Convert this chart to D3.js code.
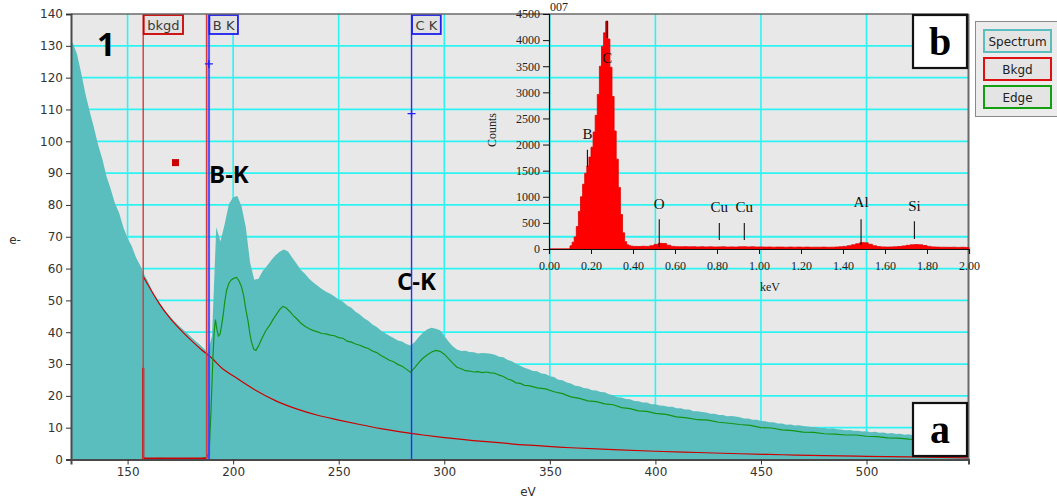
<!DOCTYPE html>
<html>
<head>
<meta charset="utf-8">
<script src="https://cdn.jsdelivr.net/npm/d3@7"></script>
<style>
  body { margin: 0; background: #fff; }
  svg { display: block; }
</style>
</head>
<body>
<svg id="chart" width="1057" height="501"></svg>
<script>
// ---------------- EELS spectrum (e- per 2 eV channel, channels start at 123 eV) ----------------
const specStart = 123;
const specStep = 2;
const spectrumCounts = [
  131, 127.5, 121.5, 115, 109.5, 104.5, 99, 94.5, 89, 85,
  80.5, 77.5, 73, 69.5, 67, 63.5, 61, 58, 55.5, 52.5,
  50.5, 48.5, 46.5, 45, 43.5, 42.2, 41, 39.8, 38.6, 37.3,
  36.2, 35, 33.5, 39, 73, 68.5, 74, 80.3, 82.4, 82.8,
  79.5, 73, 62, 56.5, 56.8, 59.2, 60.8, 62.6, 64.1, 65.3,
  66, 65.4, 63.4, 61.6, 59.6, 58.4, 56.8, 55.6, 54.6, 53.6,
  52.7, 52.1, 51.2, 50.3, 49.6, 48.4, 47.7, 46.4, 45.6, 44.4,
  43.6, 42.4, 41.6, 40.5, 39.7, 38.9, 38.2, 37.4, 37.1, 36.3,
  35.8, 36.9, 38.6, 39.9, 40.9, 41.4, 41.1, 40.6, 38.9, 37.1,
  35.6, 34.6, 34.1, 34.2, 33.8, 33.7, 33.3, 33.5, 33.4, 33.2,
  32.9, 32.3, 32.1, 31.3, 30.9, 30.1, 29.5, 28.8, 28.4, 27.8,
  27.7, 27.0, 26.9, 26.2, 25.9, 25.1, 24.9, 24.2, 23.9, 23.2,
  23.0, 22.5, 22.3, 21.8, 21.7, 21.2, 21.1, 20.5, 20.2, 19.6,
  19.5, 19.0, 18.9, 18.4, 18.3, 17.9, 17.9, 17.4, 17.4, 17.0,
  16.9, 16.6, 16.6, 16.1, 16.1, 15.7, 15.7, 15.2, 15.2, 14.9,
  14.8, 14.4, 14.4, 14.0, 14.0, 13.6, 13.7, 13.5, 13.3, 12.9,
  12.9, 12.5, 12.5, 12.1, 12.0, 11.7, 11.7, 11.3, 11.3, 10.9,
  11.0, 10.7, 10.8, 10.5, 10.4, 10.2, 10.2, 9.9, 9.9, 9.7,
  9.8, 9.5, 9.4, 9.2, 9.3, 9.0, 9.0, 8.8, 8.9, 8.6,
  8.7, 8.4, 8.5, 8.2, 8.3, 8.0, 8.1, 7.8, 7.9, 7.6,
  7.7, 7.4, 7.5, 7.3, 7.3, 7.1, 7.2, 7.0, 7.1, 6.9,
  7.0, 6.8, 6.9
];

// Power-law background fit, [eV, e-]
const bkgdProfile = [
  [157.4, 57.5], [160, 54.5], [165, 49], [170, 44.5], [175, 40.8], [180, 37.5],
  [185, 34.5], [190, 31.8], [195, 28.5], [200, 26.3], [210, 22], [220, 18.5],
  [230, 15.9], [240, 13.9], [250, 12.4], [260, 11], [270, 9.7], [280, 8.6],
  [290, 7.7], [300, 6.9], [320, 5.6], [340, 4.5], [360, 3.7], [380, 3.1],
  [400, 2.6], [420, 2.2], [440, 1.8], [460, 1.5], [480, 1.2], [500, 1.0],
  [520, 0.8], [548.3, 0.5]
];

// Background-subtracted edge signal, [eV, e-]
const edgeProfile = [
  [157.4, 0.3], [160, 0.1], [165, 0.4], [170, 0.2], [175, 0.3], [180, 0.1], [185, 0.4],
  [187.4, 0.6], [188.6, 2], [189.5, 15], [190.3, 30], [191, 40], [191.6, 44], [192.3, 41],
  [193, 38.8], [193.8, 39.4], [194.5, 42], [195.3, 45.5], [196, 49.5], [196.9, 53.2],
  [198, 55.4], [199.2, 56.5], [200.5, 57], [201.6, 57.2], [202.8, 56.1], [203.9, 54.4],
  [205, 51.4], [206, 47.2], [207.1, 43.3], [208, 39.2], [208.7, 36.9], [209.8, 34.6],
  [210.8, 34.3], [212, 35.7], [213.5, 37.9], [215.4, 40.4], [217.4, 42.3], [219, 44.1],
  [220.5, 45.6], [222, 47.1], [223.5, 48.1], [225, 47.7], [226.7, 46.6], [228.4, 45.3],
  [230, 44.3], [232, 42.9], [234, 41.9], [236, 41.1], [238, 40.5], [240, 40.1],
  [242, 39.6], [244, 39.5], [246, 39.1], [248, 38.9], [250, 38.3], [252, 38.1],
  [254, 37.2], [256, 36.9], [258, 36.3], [260, 35.9], [262, 35.3], [264, 34.9],
  [266, 34.1], [268, 33.6], [270, 32.7], [272, 32.0], [274, 31.2], [276, 30.7],
  [278, 29.9], [280, 29.3], [282, 28.4], [284, 27.4], [286, 28.9], [288, 30.5],
  [290, 31.9], [292, 32.9], [294, 33.8], [296, 34.3], [298, 34.0], [300, 33.1],
  [302, 31.7], [304, 30.3], [306, 29.0], [308, 28.5], [310, 27.9], [312, 27.8],
  [314, 27.5], [316, 27.6], [318, 27.3], [320, 27.5], [322, 27.2], [324, 27.1],
  [326, 26.5], [328, 26.1], [330, 25.3], [332, 24.9], [334, 24.1], [336, 23.9],
  [338, 23.3], [340, 23.2], [344, 22.5], [348, 22.2], [352, 21.3], [356, 20.7],
  [360, 19.7], [364, 19.2], [368, 18.4], [372, 18.2], [376, 17.5], [380, 17.2],
  [384, 16.3], [388, 16.0], [392, 15.3], [396, 15.1], [400, 14.5], [405, 14.2],
  [410, 13.4], [415, 13.1], [420, 12.5], [425, 12.4], [430, 11.7], [435, 11.4],
  [440, 11.0], [445, 10.7], [450, 10.0], [455, 9.9], [460, 9.3], [465, 9.1],
  [470, 8.6], [475, 8.5], [480, 8.1], [485, 8.0], [490, 7.7], [495, 7.7],
  [500, 7.3], [505, 7.2], [510, 6.8], [515, 6.7], [520, 6.4], [525, 6.3],
  [530, 6.0], [535, 5.9], [540, 5.6], [548.3, 5.5]
];

// Edge / window markers (eV) and their labels
const markerNames = ["bkgd", "B K", "C K"];
const markerEv = [157.4, 188.5, 284.5];
const bkgdWindow = [157.4, 187.4];
const bkgdStepValue = 28.8;
const markerCross = [[188.5, 124.3], [284.5, 108.7]];
const fitPoint = [172.7, 93.3];

const xTicks = [150, 200, 250, 300, 350, 400, 450, 500];
const yTicks = [0, 10, 20, 30, 40, 50, 60, 70, 80, 90, 100, 110, 120, 130, 140];

// ---------------- EDS inset (counts) ----------------
// 0.01 keV channels from 0.00 to 0.39 keV
const edsFineCounts = [
  0, 0, 0, 0, 0, 0, 0, 0, 0, 0,
  60, 130, 230, 430, 720, 1000, 1240, 1450, 1590, 1760,
  1950, 2240, 2560, 2960, 3500, 3880, 4140, 4360, 4020, 3480,
  2920, 2260, 1720, 1180, 660, 310, 140, 80, 62, 55
];
// 0.02 keV channels from 0.40 to 1.98 keV
const edsCoarseCounts = [
  50, 48, 52, 50, 62, 88, 108, 104, 72, 50,
  44, 42, 45, 41, 43, 40, 42, 39, 41, 38,
  40, 42, 38, 40, 37, 41, 44, 40, 42, 38,
  39, 36, 38, 35, 37, 36, 34, 37, 35, 36,
  34, 36, 33, 35, 34, 36, 33, 35, 38, 42,
  50, 62, 80, 100, 122, 118, 90, 62, 46, 40,
  37, 39, 42, 48, 58, 70, 80, 84, 80, 66,
  50, 40, 36, 34, 33, 32, 34, 31, 33, 30
];
const peakNames = ["B", "C", "O", "Cu", "Cu", "Al", "Si"];
const peakKeV = [0.183, 0.277, 0.525, 0.811, 0.930, 1.486, 1.740];
const edsXTicks = [0, 0.2, 0.4, 0.6, 0.8, 1.0, 1.2, 1.4, 1.6, 1.8, 2.0];
const edsYTicks = [0, 500, 1000, 1500, 2000, 2500, 3000, 3500, 4000, 4500];

const legendNames = ["Spectrum", "Bkgd", "Edge"];

// ---------------- colours ----------------
const C = {
  plotBg: "#e8e8e8",
  grid: "#2ef3f3",
  spectrum: "#5bbebe",
  bkgd: "#cc0000",
  edge: "#149414",
  marker: "#2a2aff",
  text: "#333333"
};

const svg = d3.select("#chart");
const sans = "'DejaVu Sans', sans-serif";
const serif = "'Liberation Serif', 'Times New Roman', serif";

const P = { left: 71, right: 968.5, top: 14, bottom: 459.5 };
const x = d3.scaleLinear().domain([123.2, 548.3]).range([P.left, P.right]);
const y = d3.scaleLinear().domain([0, 140]).range([P.bottom, P.top]);

svg.append("defs").append("clipPath").attr("id", "plotClip")
  .append("rect").attr("x", P.left).attr("y", P.top)
  .attr("width", P.right - P.left).attr("height", P.bottom - P.top);

// plot background
svg.append("rect").attr("x", P.left).attr("y", P.top)
  .attr("width", P.right - P.left).attr("height", P.bottom - P.top)
  .attr("fill", C.plotBg);

// grid
const grid = svg.append("g");
grid.selectAll("line.v").data(xTicks).join("line")
  .attr("x1", d => x(d)).attr("x2", d => x(d))
  .attr("y1", P.top).attr("y2", P.bottom)
  .attr("stroke", C.grid).attr("stroke-width", 1.6);
grid.selectAll("line.h").data(yTicks.filter(d => d > 0 && d < 140)).join("line")
  .attr("x1", P.left).attr("x2", P.right)
  .attr("y1", d => y(d)).attr("y2", d => y(d))
  .attr("stroke", C.grid).attr("stroke-width", 1.8);

const plotG = svg.append("g").attr("clip-path", "url(#plotClip)");

// spectrum: channel values drawn at channel centres
const specPts = spectrumCounts.map((v, i) => [specStart + i * specStep + specStep / 2, v]);
specPts.unshift([specStart - specStep, spectrumCounts[0]]);
specPts.push([specStart + spectrumCounts.length * specStep + specStep, spectrumCounts[spectrumCounts.length - 1]]);
plotG.append("path").datum(specPts)
  .attr("fill", C.spectrum)
  .attr("d", d3.area().x(d => x(d[0])).y0(y(0)).y1(d => y(d[1])));

// background fit
plotG.append("path").datum(bkgdProfile)
  .attr("fill", "none").attr("stroke", C.bkgd).attr("stroke-width", 1.2)
  .attr("d", d3.line().x(d => x(d[0])).y(d => y(d[1])).curve(d3.curveMonotoneX));

// edge signal
plotG.append("path").datum(edgeProfile)
  .attr("fill", "none").attr("stroke", C.edge).attr("stroke-width", 1.2)
  .attr("d", d3.line().x(d => x(d[0])).y(d => y(d[1])));

// background window
plotG.append("line")
  .attr("x1", x(bkgdWindow[0])).attr("x2", x(bkgdWindow[0]))
  .attr("y1", y(0)).attr("y2", y(bkgdStepValue))
  .attr("stroke", C.bkgd).attr("stroke-width", 2.2);
plotG.append("line")
  .attr("x1", x(bkgdWindow[0])).attr("x2", x(bkgdWindow[1]))
  .attr("y1", y(0) - 1).attr("y2", y(0) - 1)
  .attr("stroke", C.bkgd).attr("stroke-width", 2);
plotG.selectAll("line.win").data(bkgdWindow).join("line")
  .attr("x1", d => x(d)).attr("x2", d => x(d))
  .attr("y1", P.top).attr("y2", P.bottom)
  .attr("stroke", "#d23c3c").attr("stroke-width", 1.4);

// edge markers
plotG.append("line")
  .attr("x1", x(markerEv[1])).attr("x2", x(markerEv[1]))
  .attr("y1", P.top).attr("y2", P.bottom)
  .attr("stroke", "#3f3fff").attr("stroke-width", 2.4).attr("opacity", 0.85);
plotG.append("line")
  .attr("x1", x(markerEv[2])).attr("x2", x(markerEv[2]))
  .attr("y1", P.top).attr("y2", P.bottom)
  .attr("stroke", C.marker).attr("stroke-width", 1.4);

// cross markers on the edge lines
markerCross.forEach(([e, v]) => {
  const cx = x(e), cy = y(v);
  plotG.append("path")
    .attr("d", `M${cx - 4},${cy}H${cx + 4}M${cx},${cy - 4}V${cy + 4}`)
    .attr("stroke", "#1f1fff").attr("stroke-width", 1.3);
});

// fit point
plotG.append("rect")
  .attr("x", x(fitPoint[0]) - 3.5).attr("y", y(fitPoint[1]) - 3.5)
  .attr("width", 7).attr("height", 7).attr("fill", C.bkgd);

// marker label boxes
const labelColors = [C.bkgd, "#2020ee", "#2020ee"];
markerNames.forEach((name, i) => {
  const g = svg.append("g");
  const t = g.append("text")
    .attr("x", x(markerEv[i]) + 4).attr("y", 30)
    .attr("font-family", sans).attr("font-size", 13).attr("fill", "#3a3a3a")
    .text(name);
  const w = t.node().getComputedTextLength();
  g.insert("rect", "text")
    .attr("x", x(markerEv[i]) + 0.5).attr("y", 15)
    .attr("width", w + 7).attr("height", 19)
    .attr("fill", "#e2e2e2").attr("stroke", labelColors[i]).attr("stroke-width", 1.8);
});

// frame
svg.append("line").attr("x1", P.left).attr("x2", P.right).attr("y1", P.top).attr("y2", P.top)
  .attr("stroke", "#6a6a6a").attr("stroke-width", 1.5);
svg.append("line").attr("x1", P.right).attr("x2", P.right).attr("y1", P.top).attr("y2", P.bottom)
  .attr("stroke", "#6a6a6a").attr("stroke-width", 2);

// axes
const yAxis = svg.append("g").attr("transform", `translate(${P.left},0)`)
  .call(d3.axisLeft(y).tickValues(yTicks).tickSize(5).tickPadding(3));
const xAxis = svg.append("g").attr("transform", `translate(0,${P.bottom})`)
  .call(d3.axisBottom(x).tickValues(xTicks).tickSize(5).tickPadding(3));
[yAxis, xAxis].forEach(a => {
  a.select(".domain").attr("stroke", "#4a4a4a").attr("stroke-width", 2);
  a.selectAll(".tick line").attr("stroke", "#333");
  a.selectAll(".tick text").attr("font-family", sans).attr("font-size", 12).attr("fill", C.text);
});
svg.append("text").attr("x", 528).attr("y", 496).attr("text-anchor", "middle")
  .attr("font-family", sans).attr("font-size", 12).attr("fill", C.text).text("eV");
svg.append("text").attr("x", 15).attr("y", 244).attr("text-anchor", "middle")
  .attr("font-family", sans).attr("font-size", 12).attr("fill", C.text).text("e-");

// panel annotations
const bold = "'Open Sans', Lato, sans-serif";
svg.append("text").attr("x", 97).attr("y", 56)
  .attr("font-family", bold).attr("font-weight", 700).attr("font-size", 32).attr("fill", "#000").text("1");
svg.append("text").attr("x", 209).attr("y", 183)
  .attr("font-family", bold).attr("font-weight", 700).attr("font-size", 24).attr("fill", "#000").text("B-K");
svg.append("text").attr("x", 397).attr("y", 290)
  .attr("font-family", bold).attr("font-weight", 700).attr("font-size", 24).attr("fill", "#000").text("C-K");

// ---------------- EDS inset ----------------
const ix = d3.scaleLinear().domain([0, 2]).range([549, 969]);
const iy = d3.scaleLinear().domain([0, 4500]).range([249, 14]);

const edsPts = [];
edsFineCounts.forEach((v, i) => edsPts.push([i * 0.01, v]));
edsCoarseCounts.forEach((v, i) => edsPts.push([0.40 + i * 0.02, v]));
edsPts.push([2.0, edsCoarseCounts[edsCoarseCounts.length - 1]]);

const inset = svg.append("g");
inset.append("path").datum(edsPts)
  .attr("fill", "#ff0000").attr("stroke", "#e00000").attr("stroke-width", 0.8)
  .attr("d", d3.area().x(d => ix(d[0])).y0(iy(0)).y1(d => iy(d[1])).curve(d3.curveStepAfter));

const iyAxis = inset.append("g").attr("transform", "translate(549,0)")
  .call(d3.axisLeft(iy).tickValues(edsYTicks).tickSize(6).tickPadding(3).tickFormat(d3.format("d")));
const ixAxis = inset.append("g").attr("transform", "translate(0,249)")
  .call(d3.axisBottom(ix).tickValues(edsXTicks).tickSize(5).tickPadding(7).tickFormat(d3.format(".2f")));
[iyAxis, ixAxis].forEach(a => {
  a.select(".domain").attr("stroke", "#111").attr("stroke-width", 1.2);
  a.selectAll(".tick line").attr("stroke", "#111");
  a.selectAll(".tick text").attr("font-family", serif).attr("font-size", 12).attr("fill", "#222");
});
inset.append("text").attr("x", 770).attr("y", 291).attr("text-anchor", "middle")
  .attr("font-family", serif).attr("font-size", 12).attr("fill", "#222").text("keV");
inset.append("text").attr("transform", "translate(496,130) rotate(-90)").attr("text-anchor", "middle")
  .attr("font-family", serif).attr("font-size", 12).attr("fill", "#222").text("Counts");
inset.append("text").attr("x", 550).attr("y", 11)
  .attr("font-family", serif).attr("font-size", 12).attr("fill", "#222").text("007");

// peak identification marks: [tick top, tick bottom, label baseline] in counts
const peakLayout = {
  B: [1900, 1570, 2100],
  C: [4370, 4040, 3570],
  O: [570, 40, 770],
  Cu: [500, 170, 700],
  Al: [570, 80, 800],
  Si: [530, 190, 720]
};
peakNames.forEach((name, i) => {
  const [top, bot, lab] = peakLayout[name];
  const px = ix(peakKeV[i]);
  inset.append("line").attr("x1", px).attr("x2", px)
    .attr("y1", iy(top)).attr("y2", iy(bot))
    .attr("stroke", "#111").attr("stroke-width", 1.1);
  inset.append("text").attr("x", px).attr("y", iy(lab)).attr("text-anchor", "middle")
    .attr("font-family", serif).attr("font-size", 15).attr("fill", "#111").text(name);
});

// panel letters
[["a", 403], ["b", 15]].forEach(([letter, top]) => {
  svg.append("rect").attr("x", 913).attr("y", top).attr("width", 54).attr("height", 53)
    .attr("fill", "#fff").attr("stroke", "#111").attr("stroke-width", 2.2);
  svg.append("text").attr("x", 940).attr("y", top + 40).attr("text-anchor", "middle")
    .attr("font-family", serif).attr("font-weight", 700).attr("font-size", 40).attr("fill", "#000")
    .text(letter);
});

// ---------------- legend ----------------
svg.append("rect").attr("x", 975.5).attr("y", 21.5).attr("width", 84).attr("height", 95)
  .attr("fill", "#ececec").attr("stroke", "#8a8a8a").attr("stroke-width", 1);
const legendColors = [C.spectrum, "#dd1111", "#12a012"];
legendNames.forEach((name, i) => {
  const top = 30 + i * 28;
  svg.append("rect").attr("x", 984).attr("y", top).attr("width", 67).attr("height", 22)
    .attr("fill", "#e4e4e4").attr("stroke", legendColors[i]).attr("stroke-width", 2);
  svg.append("text").attr("x", 1017.5).attr("y", top + 16).attr("text-anchor", "middle")
    .attr("font-family", sans).attr("font-size", 12).attr("fill", "#222").text(name);
});
</script>
</body>
</html>
